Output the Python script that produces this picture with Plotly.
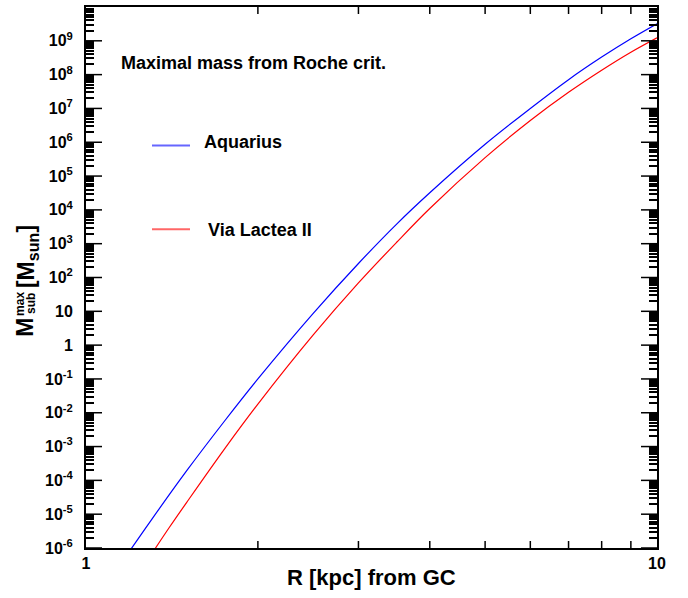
import plotly.graph_objects as go

# Galactocentric radius R [kpc] and maximal subhalo mass [M_sun]
r_aquarius = [1.2, 1.3, 1.5, 1.75, 2.0, 2.5, 3.0, 3.5, 4.0, 5.0, 6.0, 7.0, 8.0, 9.0, 10.0]
m_aquarius = [9.5e-7, 6.6e-6, 1.9e-4, 5.8e-3, 0.10, 8.7, 2.6e2, 3.8e3, 3.2e4,
              8.7e5, 1.0e7, 7.1e7, 3.3e8, 1.15e9, 3.2e9]

r_vialactea = [1.3, 1.4, 1.5, 1.75, 2.0, 2.5, 3.0, 3.5, 4.0, 5.0, 6.0, 7.0, 8.0, 9.0, 10.0]
m_vialactea = [6.3e-7, 4.1e-6, 2.2e-5, 8.7e-4, 1.8e-2, 2.0, 69, 1.1e3, 1.1e4,
               3.5e5, 4.4e6, 3.0e7, 1.35e8, 4.6e8, 1.23e9]

y_tickvals = [1e-6, 1e-5, 1e-4, 1e-3, 1e-2, 1e-1, 1, 10, 1e2, 1e3, 1e4, 1e5, 1e6, 1e7, 1e8, 1e9]
y_ticktext = ["10<sup>-6</sup>", "10<sup>-5</sup>", "10<sup>-4</sup>", "10<sup>-3</sup>",
              "10<sup>-2</sup>", "10<sup>-1</sup>", "1", "10", "10<sup>2</sup>",
              "10<sup>3</sup>", "10<sup>4</sup>", "10<sup>5</sup>", "10<sup>6</sup>",
              "10<sup>7</sup>", "10<sup>8</sup>", "10<sup>9</sup>"]
x_tickvals = [1, 10]
x_ticktext = ["1", "10"]

# minor tick positions: 2..9 in every decade, with extra half steps near the top of a decade
minor_steps = [2, 3, 4, 5, 6, 7, 7.5, 8, 8.5, 9, 9.5]
y_minor = [k * 10.0 ** e for e in range(-6, 10) for k in minor_steps]
x_minor = [2, 3, 4, 5, 6, 7, 8, 9]

W, H = 688, 598
L, R, T, B = 86, 31, 5, 50
PW, PH = W - L - R, H - T - B


def px(x, y):
    """Pixel position -> paper coordinates."""
    return (x - L) / PW, (H - B - y) / PH


FONT = "Liberation Sans, Arial, Helvetica, sans-serif"

fig = go.Figure()
fig.add_trace(go.Scatter(x=r_aquarius, y=m_aquarius, mode="lines",
                         line=dict(color="#0000ff", width=1.2, shape="spline"),
                         name="Aquarius", showlegend=False))
fig.add_trace(go.Scatter(x=r_vialactea, y=m_vialactea, mode="lines",
                         line=dict(color="#ff0000", width=1.2, shape="spline"),
                         name="Via Lactea II", showlegend=False))

tickfont = dict(family=FONT, size=16, color="black", weight="bold")
frame = dict(showline=True, linecolor="black", linewidth=2, mirror="allticks",
             showgrid=False, zeroline=False, tickcolor="black", tickwidth=1.5)

fig.update_layout(
    xaxis=dict(type="log", range=[0, 1], tickmode="array", tickvals=x_tickvals,
               ticktext=x_ticktext, ticks="", tickfont=tickfont, **frame),
    yaxis=dict(type="log", range=[-6, 10], tickmode="array", tickvals=y_tickvals,
               ticktext=y_ticktext, ticks="", tickfont=tickfont,
               ticklabelstandoff=8, **frame),
    yaxis2=dict(type="log", range=[-6, 10], overlaying="y", anchor="x", side="left",
                tickmode="array", tickvals=y_minor, ticktext=[""] * len(y_minor),
                ticks="inside", ticklen=8, **frame),
)
# invisible carrier so the overlay axis is drawn
fig.add_trace(go.Scatter(x=[2], y=[1], xaxis="x", yaxis="y2", mode="markers",
                         marker=dict(opacity=0), hoverinfo="skip", showlegend=False))

shapes = []
tick_line = dict(color="black", width=1.5)
# long decade ticks on the left and right frame
for v in y_tickvals:
    for x0, x1 in ((0, 16 / PW), (1 - 16 / PW, 1)):
        shapes.append(dict(type="line", xref="paper", yref="y", x0=x0, x1=x1,
                           y0=v, y1=v, line=tick_line))
# short ticks on the bottom and top frame
for v in x_minor:
    for y0, y1 in ((0, 7 / PH), (1 - 7 / PH, 1)):
        shapes.append(dict(type="line", xref="x", yref="paper", x0=v, x1=v,
                           y0=y0, y1=y1, line=tick_line))

bold = dict(family=FONT, color="black", weight="bold")
annotations = []


def note(text, x, y, size, angle=0, xanchor="center"):
    xp, yp = px(x, y)
    annotations.append(dict(text=text, x=xp, y=yp, xref="paper", yref="paper",
                            showarrow=False, textangle=angle, xanchor=xanchor,
                            yanchor="middle", font=dict(size=size, **bold)))


note("Maximal mass from Roche crit.", 119, 61, 18, xanchor="left")
note("Aquarius", 202, 141, 18, xanchor="left")
note("Via Lactea II", 206, 229, 18, xanchor="left")
note("R [kpc] from GC", 371, 578, 22)
# y-axis title: M with stacked super/subscript, then [M_sun]
note("M", 25, 327, 23, angle=-90)
note("max", 20, 303, 12, angle=-90)
note("sub", 31, 303, 12, angle=-90)
note("[M<sub>sun</sub>]", 27, 256, 23, angle=-90)

for color, yline in (("rgba(0,0,255,0.6)", 144), ("rgba(255,0,0,0.6)", 228)):
    x0, y0 = px(152, yline)
    x1, _ = px(190, yline)
    shapes.append(dict(type="line", xref="paper", yref="paper", x0=x0, x1=x1, y0=y0, y1=y0,
                       line=dict(color=color, width=2)))

fig.update_layout(width=W, height=H, margin=dict(l=L, r=R, t=T, b=B),
                  plot_bgcolor="white", paper_bgcolor="white",
                  annotations=annotations, shapes=shapes, showlegend=False)

fig.write_html("out.html")
